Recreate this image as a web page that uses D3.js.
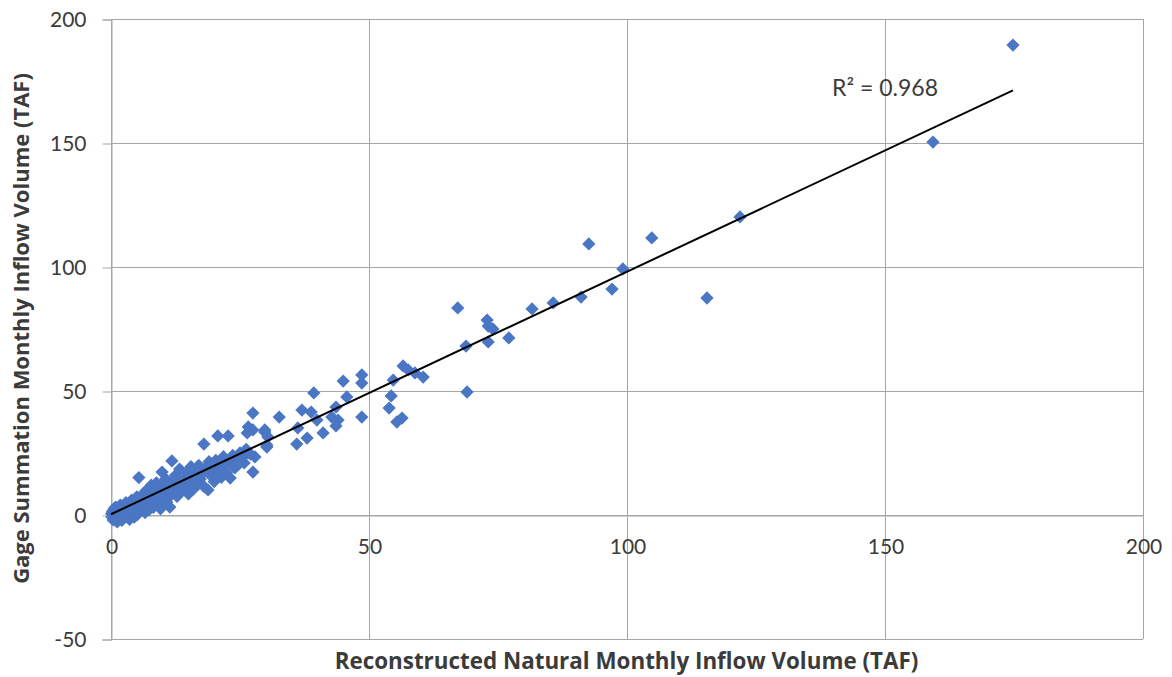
<!DOCTYPE html>
<html>
<head>
<meta charset="utf-8">
<script src="https://cdn.jsdelivr.net/npm/d3@7"></script>
<style>
  html, body { margin: 0; padding: 0; background: #ffffff; }
  svg { display: block; }
  text { font-family: Lato, "Open Sans", "Liberation Sans", sans-serif; }
</style>
</head>
<body>
<svg id="chart" width="1172" height="677"></svg>
<script>
// ---- Data ----
// Reconstructed natural monthly inflow volume (TAF)
const reconstructed = [
  174.8, 159.3, 121.9, 104.8, 92.6, 99.2, 97.1, 91.1, 115.5, 85.7,
  81.6, 67.2, 72.9, 73.1, 74.0, 73.1, 77.1, 68.8, 69.0,
  56.6, 57.6, 58.9, 60.5, 54.7, 48.6, 48.6, 54.3, 53.9, 48.6, 56.4,
  55.4, 45.7, 45.0, 39.3, 43.6, 37.0, 38.8, 42.8, 44.0, 43.6,
  39.9, 32.6, 27.5, 36.2, 41.1, 38.0, 36.0, 29.8, 30.4, 30.2,
  27.5, 27.9, 27.5, 26.4, 26.6, 29.8, 30.2, 20.7, 22.7, 18.0,
  11.8, 9.9, 11.4, 5.4, 18.8, 23.1,
  0.1, 0.2, 0.3, 0.4, 0.5, 0.6, 0.7, 0.8, 0.9, 1.0,
  1.1, 1.2, 1.3, 1.4, 1.5, 1.6, 1.8, 1.9, 2.0, 2.1,
  2.3, 2.4, 2.6, 2.7, 2.9, 3.0, 3.2, 3.3, 3.5, 3.6,
  3.8, 4.0, 4.1, 4.3, 4.5, 4.6, 4.8, 5.0, 5.1, 5.3,
  5.5, 6.0, 6.2, 6.4, 6.6, 6.8, 7.0, 7.2, 7.4, 7.6,
  7.8, 8.0, 8.2, 8.4, 8.6, 8.8, 9.0, 9.2, 9.4, 9.6,
  10.0, 10.2, 10.4, 10.6, 10.8, 11.0, 11.6, 12.0, 12.2, 12.5,
  12.8, 13.0, 13.3, 13.6, 14.0, 14.3, 14.6, 15.0, 15.2, 15.5,
  15.8, 16.0, 16.3, 16.6, 17.0, 17.3, 17.6, 18.0, 18.3, 19.0,
  19.3, 19.6, 20.0, 20.3, 20.7, 21.0, 21.4, 21.8, 22.0, 22.4,
  23.3, 23.6, 24.0, 24.3, 24.7, 25.0, 25.4, 25.8, 26.2, 27.0,
  14.8, 16.8, 19.8, 21.2, 22.8, 24.6, 8.3, 6.3, 3.9, 2.2
];
// Gage summation monthly inflow volume (TAF)
const gageSummation = [
  189.5, 150.4, 120.2, 111.7, 109.3, 99.2, 91.1, 87.9, 87.5, 85.5,
  83.1, 83.5, 78.6, 76.2, 75.0, 69.8, 71.4, 68.1, 49.6,
  60.1, 58.5, 57.3, 55.6, 54.4, 56.5, 53.2, 48.0, 43.1, 39.5, 39.1,
  37.5, 47.6, 54.0, 49.2, 43.5, 42.3, 41.5, 39.5, 38.3, 35.9,
  38.3, 39.5, 41.1, 35.1, 33.1, 31.0, 28.6, 34.3, 31.5, 27.4,
  34.3, 23.4, 17.3, 33.1, 35.5, 33.5, 28.2, 31.9, 31.9, 28.6,
  21.8, 17.3, 3.2, 15.1, 10.1, 14.9,
  0.5, -0.8, 1.5, -2.0, 0.2, 2.5, -1.2, 0.9, 3.2, -0.5,
  1.8, -2.8, 0.4, 2.9, -1.5, 1.1, 4.0, -0.3, 2.2, -2.2,
  0.8, 3.5, -1.0, 1.6, 5.0, -0.6, 2.8, 0.3, 4.3, -1.8,
  2.0, 6.0, 0.9, 3.4, -0.9, 5.2, 2.5, 7.3, 0.2, 4.1,
  1.6, 3.0, 8.5, 5.4, 1.0, 6.8, 10.2, 4.0, 2.2, 8.0,
  12.0, 5.8, 3.1, 9.5, 7.0, 13.0, 4.5, 10.8, 8.2, 2.5,
  6.0, 12.5, 9.0, 14.5, 5.2, 11.0, 8.0, 13.8, 10.0, 16.0,
  7.5, 12.0, 18.5, 9.5, 14.0, 11.0, 17.0, 8.5, 13.2, 19.5,
  15.0, 10.5, 17.2, 12.4, 20.0, 14.5, 16.5, 11.5, 19.0, 21.5,
  16.0, 18.5, 13.5, 22.0, 17.5, 19.8, 15.2, 23.5, 20.0, 17.0,
  21.5, 24.0, 19.0, 22.5, 20.5, 25.0, 23.0, 21.0, 26.5, 24.5,
  15.5, 15.0, 20.5, 18.0, 22.0, 21.8, 8.8, 6.0, 2.8, 1.2
];
const xTicks = [0, 50, 100, 150, 200];
const yTicks = [-50, 0, 50, 100, 150, 200];
const trendSlope = 0.978;
const trendIntercept = 0.3;
const rSquaredLabel = "R\u00B2 = 0.968";
const xTitle = "Reconstructed Natural Monthly Inflow Volume (TAF)";
const yTitle = "Gage Summation Monthly Inflow Volume (TAF)";

// ---- Layout ----
const svg = d3.select("#chart");
const plot = { left: 111, right: 1143, top: 19, bottom: 639 };
const x = d3.scaleLinear().domain([0, 200]).range([plot.left, plot.right]);
const y = d3.scaleLinear().domain([-50, 200]).range([plot.bottom, plot.top]);

const gridColor = "#a6a6a6";
const textColor = "#3b3b3b";
const markerColor = "#4a76c4";
const plainFormat = d => String(d);

// Gridlines
svg.append("g").selectAll("line").data(yTicks).join("line")
  .attr("x1", plot.left).attr("x2", plot.right)
  .attr("y1", d => Math.round(y(d)) + 0.5).attr("y2", d => Math.round(y(d)) + 0.5)
  .attr("stroke", gridColor).attr("stroke-width", 1);
svg.append("g").selectAll("line").data(xTicks).join("line")
  .attr("y1", plot.top).attr("y2", plot.bottom)
  .attr("x1", d => Math.round(x(d)) + 0.5).attr("x2", d => Math.round(x(d)) + 0.5)
  .attr("stroke", gridColor).attr("stroke-width", 1);

// Y axis (left) with outward ticks
const yAxis = d3.axisLeft(y).tickValues(yTicks).tickSize(9).tickPadding(16).tickFormat(plainFormat);
const gy = svg.append("g").attr("transform", `translate(${plot.left + 0.5},0.5)`).call(yAxis);
gy.select(".domain").attr("stroke", gridColor);
gy.selectAll(".tick line").attr("stroke", gridColor);
gy.selectAll(".tick text").attr("fill", textColor).style("font-size", "21px").attr("dy", "0.34em");

// X axis at y = 0
const xAxis = d3.axisBottom(x).tickValues(xTicks).tickSize(0).tickPadding(24).tickFormat(plainFormat);
const gx = svg.append("g").attr("transform", `translate(0.5,${Math.round(y(0)) + 0.5})`).call(xAxis);
gx.select(".domain").attr("stroke", gridColor);
gx.selectAll(".tick text").attr("fill", textColor).style("font-size", "21px");

// Markers (diamonds)
const diamond = d3.symbol().type(d3.symbolSquare).size(88);
const pts = reconstructed.map((v, i) => ({ x: v, y: gageSummation[i] }));
svg.append("g").selectAll("path").data(pts).join("path")
  .attr("d", diamond)
  .attr("transform", d => `translate(${x(d.x)},${y(d.y)}) rotate(45)`)
  .attr("fill", markerColor);

// Linear trendline
const xMax = d3.max(reconstructed);
svg.append("line")
  .attr("x1", x(0)).attr("y1", y(trendIntercept))
  .attr("x2", x(xMax)).attr("y2", y(trendIntercept + trendSlope * xMax))
  .attr("stroke", "#000").attr("stroke-width", 2);

// R² label
svg.append("text").attr("x", 832).attr("y", 96)
  .attr("fill", textColor).style("font-size", "23px").text(rSquaredLabel);

// Axis titles
svg.append("text").attr("x", (336 + 917) / 2).attr("y", 669)
  .attr("text-anchor", "middle").attr("fill", textColor)
  .style("font-family", "'Open Sans', Lato, sans-serif")
  .style("font-size", "22.4px").style("font-weight", "bold").text(xTitle);
svg.append("text").attr("transform", `translate(29,${(67 + 590) / 2}) rotate(-90)`)
  .attr("text-anchor", "middle").attr("fill", textColor)
  .style("font-family", "'Open Sans', Lato, sans-serif")
  .style("font-size", "22px").style("font-weight", "bold").text(yTitle);
</script>
</body>
</html>
